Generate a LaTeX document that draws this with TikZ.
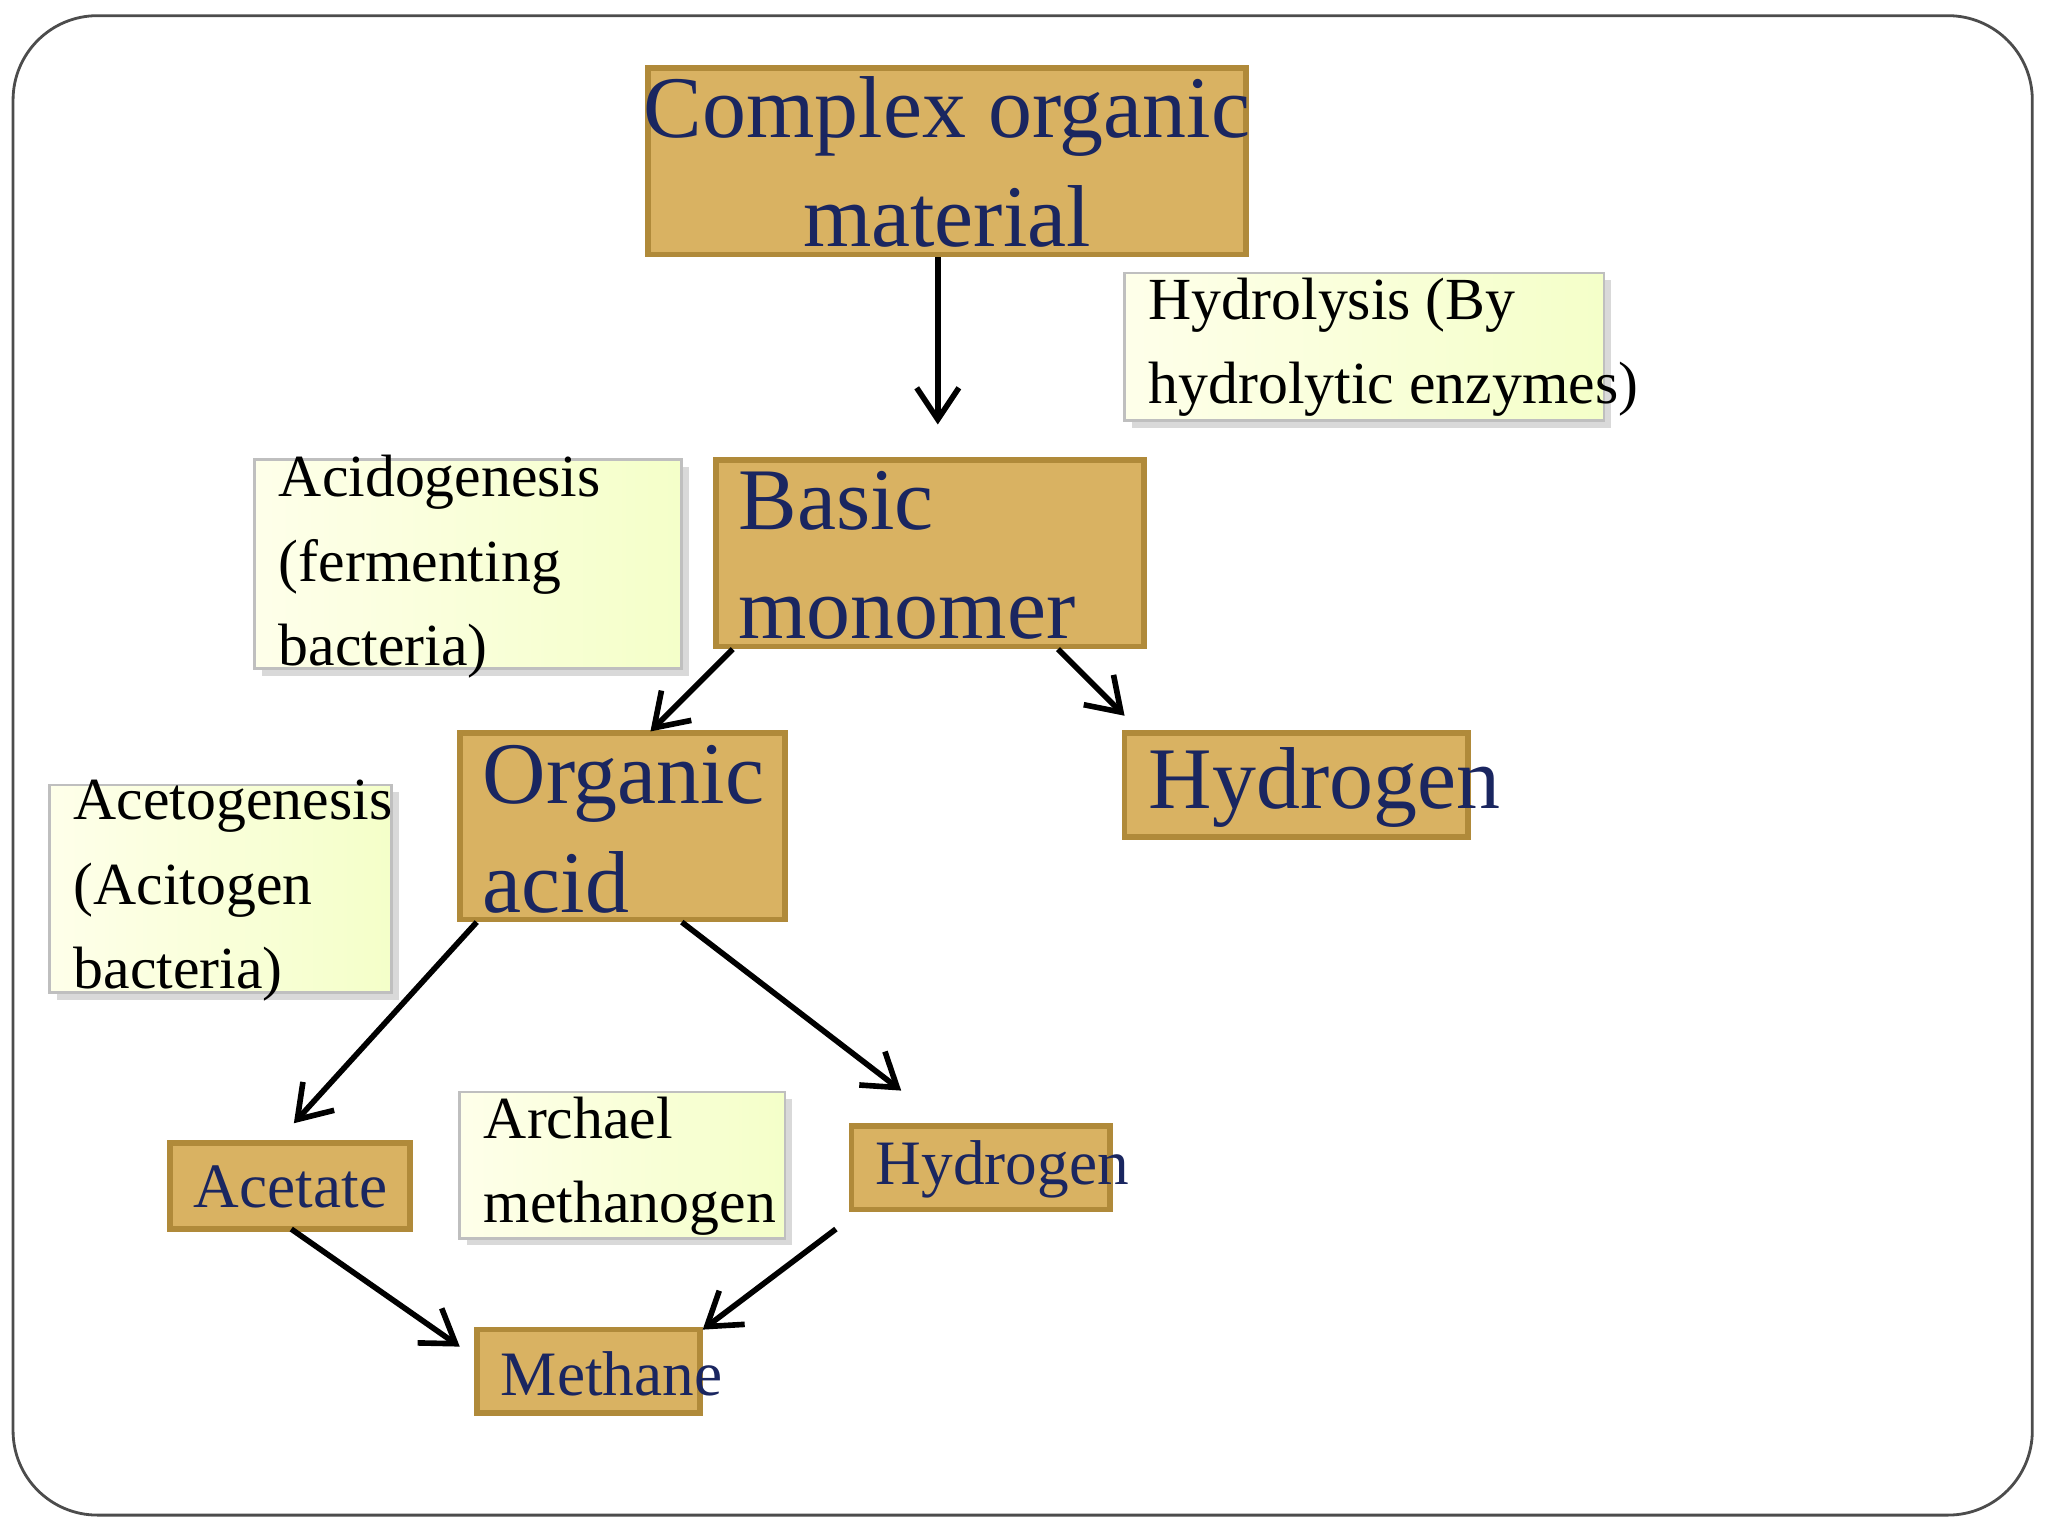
\documentclass[tikz,border=0pt]{standalone}
\usepackage{fontspec}
\setmainfont{Liberation Serif}
\usetikzlibrary{shadows,arrows.meta}
\definecolor{boxfill}{HTML}{D9B262}
\definecolor{boxline}{HTML}{B08A3A}
\definecolor{navy}{HTML}{1A2660}
\begin{document}
\begin{tikzpicture}[x=0.01306cm,y=-0.01306cm,
 box/.style={draw=boxline,line width=1.6pt,fill=boxfill,text=navy},
 lab/.style={draw=black!25,line width=0.8pt,left color=white!85!green!20!yellow!10,right color=green!20!yellow!25!white!85,drop shadow={shadow xshift=2pt,shadow yshift=-2pt,opacity=0.3}},
 arr/.style={-{Stealth[length=10pt,width=9pt,open]},line width=1.6pt,black,shorten >=0pt}]
\useasboundingbox (0,0) rectangle (1568,1176);
\draw[line width=0.8pt,black!70,rounded corners=24pt] (10,12) rectangle (1556,1160);
\newcommand{\bx}[6]{\draw[#1] (#2,#3) rectangle (#4,#5); \node[#6] at (0,0) {};}
% boxes
\draw[box] (496,52) rectangle (954,195);
\node[text=navy,align=center,font=\fontsize{25}{31}\selectfont] (c) at (725,124) {Complex organic\\material};
\draw[lab] (861,209) rectangle (1228,322);
\node[anchor=west,align=left,font=\fontsize{17}{24}\selectfont] (h) at (870,266) {Hydrolysis (By\\hydrolytic enzymes)};
\draw[box] (548,352) rectangle (876,495);
\node[text=navy,anchor=west,align=left,font=\fontsize{25}{31}\selectfont] (b) at (556,425) {Basic\\monomer};
\draw[lab] (195,352) rectangle (522,512);
\node[anchor=west,align=left,font=\fontsize{17}{24}\selectfont] (ag) at (204,434) {Acidogenesis\\(fermenting\\bacteria)};
\draw[box] (352,561) rectangle (601,704);
\node[text=navy,anchor=west,align=left,font=\fontsize{25}{31}\selectfont] (o) at (360,635) {Organic\\acid};
\draw[box] (861,561) rectangle (1124,641);
\node[text=navy,anchor=west,font=\fontsize{25}{31}\selectfont] (hy) at (870,603) {Hydrogen};
\draw[lab] (38,601) rectangle (300,760);
\node[anchor=west,align=left,font=\fontsize{17}{24}\selectfont] (at) at (47,682) {Acetogenesis\\(Acitogen\\bacteria)};
\draw[box] (130,875) rectangle (314,941);
\node[text=navy,anchor=west,font=\fontsize{18}{22}\selectfont] (ac) at (139,909) {Acetate};
\draw[lab] (352,836) rectangle (601,948);
\node[anchor=west,align=left,font=\fontsize{17}{24}\selectfont] (ar) at (361,893) {Archael\\methanogen};
\draw[box] (652,862) rectangle (850,926);
\node[text=navy,anchor=west,font=\fontsize{18}{22}\selectfont] (h2) at (661,895) {Hydrogen};
\draw[box] (365,1018) rectangle (536,1082);
\node[text=navy,anchor=west,font=\fontsize{18}{22}\selectfont] (m) at (374,1052) {Methane};
% arrow endpoints
\coordinate (a1s) at (718,197); \coordinate (a1e) at (718,325);
\coordinate (a2s) at (561,497); \coordinate (a2e) at (498,560);
\coordinate (a3s) at (810,497); \coordinate (a3e) at (861,548);
\coordinate (a4s) at (365,706); \coordinate (a4e) at (225,860);
\coordinate (a5s) at (522,706); \coordinate (a5e) at (690,835);
\coordinate (a6s) at (223,941); \coordinate (a6e) at (352,1031);
\coordinate (a7s) at (640,941); \coordinate (a7e) at (538,1018);
\foreach \i in {1,...,7} \draw[-{Straight Barb[length=9pt,width=12pt]},line width=1.6pt] (a\i s) -- (a\i e);
\end{tikzpicture}
\end{document}
